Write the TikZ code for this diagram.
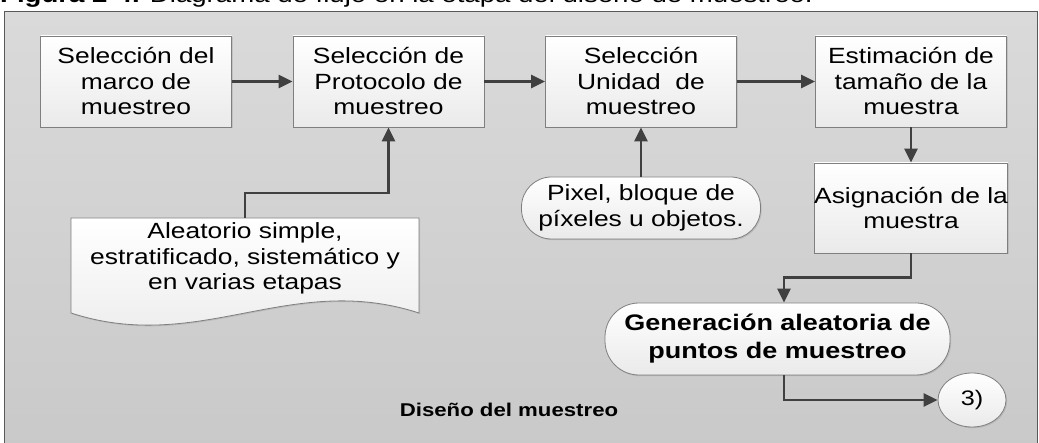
\documentclass[tikz,border=0pt]{standalone}
\usepackage{fontspec}
\setmainfont{Liberation Sans}[FakeStretch=1.2]
\usetikzlibrary{arrows.meta,shapes.geometric,shadows}
\definecolor{framedraw}{HTML}{595959}
\definecolor{frametop}{HTML}{DADADA}
\definecolor{framebot}{HTML}{C9C9C9}
\definecolor{boxdraw}{HTML}{7F7F7F}
\definecolor{boxbot}{HTML}{EAEAEA}
\definecolor{conncol}{HTML}{404040}
\tikzset{
  txt/.style={font=\fontsize{22}{25.5}\selectfont, align=center, text=black},
  procbox/.style={txt, draw=boxdraw, line width=0.8pt, top color=white, bottom color=boxbot,
    minimum width=191pt, minimum height=91pt, inner sep=0pt,
    drop shadow={shadow xshift=1.2pt, shadow yshift=-1.2pt, opacity=0.25}},
  termbox/.style={txt, draw=boxdraw, line width=0.8pt, top color=white, bottom color=boxbot,
    rounded corners=30pt, inner sep=0pt,
    drop shadow={shadow xshift=1.2pt, shadow yshift=-1.2pt, opacity=0.25}},
  conn/.style={draw=conncol, line width=2.4pt, -{Triangle[length=14pt,width=13pt]}},
  plainline/.style={draw=conncol, line width=2.4pt}
}
\begin{document}
\begin{tikzpicture}[x=1pt,y=-1pt]
\useasboundingbox (0,0) rectangle (1039,443);
% caption (clipped at top)
\node[anchor=base west, inner sep=0pt, font=\fontsize{23}{26}\selectfont] (cap) at (0,3)
  {\textbf{Figura 2-4.} Diagrama de flujo en la etapa del diseño de muestreo.};
% frame
\draw[draw=framedraw, line width=0.9pt, top color=frametop, bottom color=framebot]
  (4,11.5) rectangle (1037,452);
% process boxes
\node[procbox] (b1) at (136,81.5) {Selección del\\marco de\\muestreo};
\node[procbox] (b2) at (388.5,81.5) {Selección de\\Protocolo de\\muestreo};
\node[procbox] (b3) at (641,81.5) {Selección\\Unidad \ de\\muestreo};
\node[procbox] (b4) at (911,81.5) {Estimación de\\tamaño de la\\muestra};
\node[procbox, minimum height=90pt] (b5) at (911,208) {Asignación de la\\muestra};
% document shape
\draw[draw=boxdraw, line width=0.8pt, top color=white, bottom color=boxbot,
      drop shadow={shadow xshift=1.2pt, shadow yshift=-1.2pt, opacity=0.25}]
  (71,218) -- (419,218) -- (419,313)
  .. controls (290,271) and (200,355) .. (71,313) -- cycle;
\node[txt] (doc) at (245,258.5) {Aleatorio simple,\\estratificado, sistemático y\\en varias etapas};
\coordinate (doctop) at (245,218);
% terminators
\node[termbox, minimum width=239pt, minimum height=62pt] (pix) at (641,208)
  {Pixel, bloque de\\píxeles u objetos.};
\node[termbox, minimum width=345pt, minimum height=72pt, rounded corners=34pt,
      font=\fontsize{22.5}{28}\selectfont\bfseries] (gen) at (777.5,339)
  {Generación aleatoria de\\puntos de muestreo};
\node[ellipse, draw=boxdraw, line width=0.8pt, top color=white, bottom color=boxbot,
      minimum width=68pt, minimum height=54pt, inner sep=0pt,
      font=\fontsize{21}{24}\selectfont,
      drop shadow={shadow xshift=1.2pt, shadow yshift=-1.2pt, opacity=0.25}] (c3) at (972,400) {3)};
\node[font=\fontsize{18.5}{22}\selectfont\bfseries] (lbl) at (509,410) {Diseño del muestreo};
% connectors
\draw[conn] (b1.east) -- (b2.west);
\draw[conn] (b2.east) -- (b3.west);
\draw[conn] (b3.east) -- (b4.west);
\draw[conn] (b4.south) -- (b5.north);
\draw[conn] (b5.south) -- ++(0,24) -| ([xshift=6.5pt]gen.north);
\draw[conn] ([xshift=6.5pt]gen.south) |- (c3.west);
\draw[conn] (doctop) -- ++(0,-25) -| (b2.south);
\draw[conn] (pix.north) -- (b3.south);
\end{tikzpicture}
\end{document}
